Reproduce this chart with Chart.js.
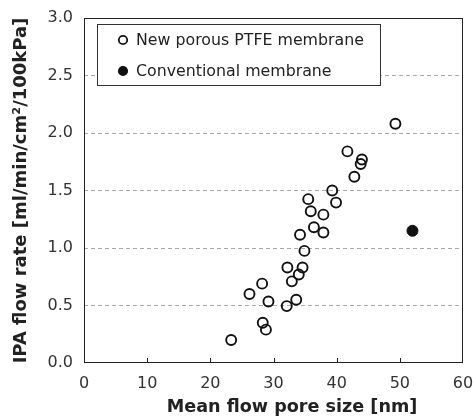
<!DOCTYPE html>
<html>
<head>
<meta charset="utf-8">
<script src="https://cdn.jsdelivr.net/npm/chart.js@4/dist/chart.umd.min.js"></script>
<style>
  html, body { margin: 0; padding: 0; background: #fff; }
  #wrap { width: 473px; height: 418px; }
</style>
</head>
<body>
<div id="wrap"><canvas id="poreChart" width="473" height="418"></canvas></div>
<script>
// new porous PTFE membrane: mean flow pore size [nm] vs IPA flow rate
const newPoreSize = [23.3, 28.3, 28.8, 26.2, 28.2, 29.2, 32.1, 33.6, 32.2, 32.9, 34.0, 34.6, 34.9,
  34.2, 36.4, 37.9, 35.9, 37.9, 35.5, 39.9, 39.3, 42.8, 43.8, 44.0, 41.7, 49.3];
const newFlowRate = [0.20, 0.35, 0.29, 0.60, 0.69, 0.535, 0.495, 0.55, 0.83, 0.71, 0.77, 0.83, 0.975,
  1.115, 1.18, 1.135, 1.32, 1.29, 1.425, 1.395, 1.50, 1.62, 1.73, 1.77, 1.84, 2.08];

// conventional membrane
const convPoreSize = [52.0];
const convFlowRate = [1.15];

const xTicks = [0, 10, 20, 30, 40, 50, 60];
const yTicks = [0, 0.5, 1.0, 1.5, 2.0, 2.5, 3.0];

const seriesNames = ['New porous PTFE membrane', 'Conventional membrane'];
const xTitle = 'Mean flow pore size [nm]';

const toPoints = (xs, ys) => xs.map((x, i) => ({ x: x, y: ys[i] }));

// box round the plot, inward x ticks, x title and the boxed legend
const framePlugin = {
  id: 'frame',
  afterDraw(chart) {
    const { ctx, chartArea: a, scales } = chart;
    ctx.save();
    ctx.strokeStyle = '#222';
    ctx.lineWidth = 1;
    ctx.strokeRect(Math.round(a.left) + 0.5, Math.round(a.top) + 0.5,
      Math.round(a.right - a.left) - 1, Math.round(a.bottom - a.top) - 1);

    // x ticks point up into the plot
    xTicks.slice(1, -1).forEach(v => {
      const px = Math.round(scales.x.getPixelForValue(v)) + 0.5;
      ctx.beginPath();
      ctx.moveTo(px, a.bottom);
      ctx.lineTo(px, a.bottom - 5);
      ctx.stroke();
    });

    // x title sits right of centre in the original
    ctx.font = 'bold 17.6px "DejaVu Sans"';
    ctx.fillStyle = '#222';
    ctx.textAlign = 'center';
    ctx.textBaseline = 'alphabetic';
    ctx.fillText(xTitle, 292, 412);

    // legend
    const lx = 97.5, ly = 24.5, lw = 283, lh = 61;
    ctx.fillStyle = '#fff';
    ctx.fillRect(lx, ly, lw, lh);
    ctx.strokeStyle = '#333';
    ctx.strokeRect(lx, ly, lw, lh);
    ctx.font = '15.8px "DejaVu Sans"';
    ctx.textAlign = 'left';
    ctx.textBaseline = 'middle';
    const rows = [40, 71];
    chart.data.datasets.forEach((ds, i) => {
      ctx.beginPath();
      ctx.arc(123, rows[i], 4.2, 0, Math.PI * 2);
      ctx.lineWidth = 1.8;
      ctx.strokeStyle = '#111';
      if (i === 1) {
        ctx.fillStyle = '#111';
        ctx.fill();
      }
      ctx.stroke();
      ctx.fillStyle = '#222';
      ctx.fillText(ds.label, 136, rows[i] + 1);
    });
    ctx.restore();
  }
};

const ctx = document.getElementById('poreChart').getContext('2d');
new Chart(ctx, {
  type: 'scatter',
  data: {
    datasets: [{
      label: seriesNames[0],
      data: toPoints(newPoreSize, newFlowRate),
      pointRadius: 5,
      pointBorderWidth: 1.9,
      borderColor: '#111',
      backgroundColor: 'rgba(0,0,0,0)'
    }, {
      label: seriesNames[1],
      data: toPoints(convPoreSize, convFlowRate),
      pointRadius: 5.5,
      pointBorderWidth: 1,
      borderColor: '#111',
      backgroundColor: '#111'
    }]
  },
  options: {
    responsive: false,
    animation: false,
    layout: { padding: { top: 18, right: 10, left: 0, bottom: 0 } },
    plugins: {
      legend: { display: false },
      tooltip: { enabled: false }
    },
    scales: {
      x: {
        type: 'linear',
        min: 0,
        max: 60,
        afterBuildTicks: s => { s.ticks = xTicks.map(v => ({ value: v })); },
        afterFit: s => {
          s.height = 55;
          s.paddingLeft = 0;
          s.paddingRight = 0;
        },
        grid: { display: false, drawTicks: false },
        border: { display: false },
        ticks: {
          padding: 11,
          color: '#333',
          font: { family: 'DejaVu Sans', size: 16 }
        }
      },
      y: {
        type: 'linear',
        min: 0,
        max: 3,
        afterBuildTicks: s => { s.ticks = yTicks.map(v => ({ value: v })); },
        afterFit: s => {
          s.width = 84;
          s.paddingTop = 0;
          s.paddingBottom = 0;
        },
        grid: {
          drawTicks: false,
          lineWidth: 1,
          color: c => (c.tick.value === 0 || c.tick.value === 3) ? 'rgba(0,0,0,0)' : '#aaa'
        },
        border: { display: false, dash: [4, 3] },
        ticks: {
          padding: 11,
          color: '#333',
          font: { family: 'DejaVu Sans', size: 16 },
          callback: v => v.toFixed(1)
        },
        title: {
          display: true,
          text: 'IPA flow rate [ml/min/cm²/100kPa]',
          color: '#222',
          font: { family: 'DejaVu Sans', size: 18, weight: 'bold' },
          padding: { top: 11, bottom: 0 }
        }
      }
    }
  },
  plugins: [framePlugin]
});
</script>
</body>
</html>
